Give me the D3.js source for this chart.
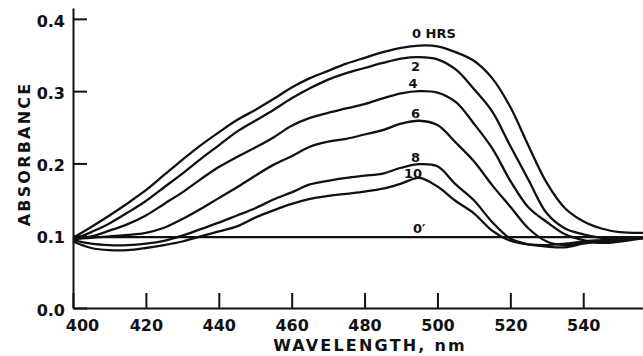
<!DOCTYPE html>
<html>
<head>
<meta charset="utf-8">
<script src="https://cdn.jsdelivr.net/npm/d3@7"></script>
<style>
  html, body { margin: 0; padding: 0; background: #fff; }
  svg { display: block; }
  .axis text { font-family: "DejaVu Sans", sans-serif; font-weight: bold; font-size: 16px; fill: #111; }
  .axis path, .axis line { stroke: #111; stroke-width: 2; }
  .title { font-family: "DejaVu Sans", sans-serif; font-weight: bold; font-size: 16px; letter-spacing: 2.2px; fill: #111; }
  .curve { fill: none; stroke: #111; stroke-width: 2.3; stroke-linejoin: round; }
  .label { font-family: "DejaVu Sans", sans-serif; font-weight: bold; font-size: 13px; fill: #111; }
</style>
</head>
<body>
<svg id="chart" width="643" height="356"></svg>
<script>
// wavelength grid (nm) shared by the time series
const wavelengths = [400, 405, 410, 415, 420, 425, 430, 435, 440, 445, 450, 455, 460, 465, 470, 475,
                     480, 485, 490, 495, 500, 505, 510, 515, 520, 525, 530, 535, 540, 545, 550, 557];

// absorbance, one array per sampling time
const hrs0 = [0.097, 0.112, 0.128, 0.145, 0.163, 0.184, 0.205, 0.225, 0.243, 0.260, 0.274, 0.289, 0.305, 0.318, 0.328, 0.338,
              0.346, 0.354, 0.360, 0.363, 0.362, 0.354, 0.342, 0.318, 0.278, 0.224, 0.173, 0.138, 0.120, 0.110, 0.105, 0.104];
const hrs2 = [0.094, 0.105, 0.117, 0.132, 0.148, 0.167, 0.186, 0.206, 0.225, 0.244, 0.259, 0.274, 0.290, 0.304, 0.316, 0.325,
              0.332, 0.339, 0.345, 0.347, 0.344, 0.330, 0.303, 0.272, 0.224, 0.177, 0.131, 0.110, 0.102, 0.097, 0.095, 0.097];
const hrs4 = [0.095, 0.099, 0.107, 0.116, 0.128, 0.144, 0.160, 0.178, 0.195, 0.209, 0.222, 0.236, 0.252, 0.263, 0.270, 0.276,
              0.282, 0.290, 0.297, 0.300, 0.298, 0.285, 0.255, 0.221, 0.176, 0.139, 0.119, 0.102, 0.094, 0.090, 0.092, 0.097];
const hrs6 = [0.096, 0.097, 0.099, 0.101, 0.104, 0.111, 0.123, 0.137, 0.152, 0.167, 0.183, 0.198, 0.210, 0.223, 0.230, 0.234,
              0.240, 0.246, 0.255, 0.259, 0.253, 0.229, 0.203, 0.170, 0.140, 0.110, 0.092, 0.087, 0.090, 0.092, 0.095, 0.098];
const hrs8 = [0.094, 0.089, 0.087, 0.087, 0.089, 0.093, 0.100, 0.109, 0.118, 0.128, 0.138, 0.150, 0.160, 0.171, 0.176, 0.180,
              0.183, 0.186, 0.194, 0.199, 0.196, 0.171, 0.149, 0.119, 0.096, 0.088, 0.085, 0.084, 0.089, 0.092, 0.095, 0.098];
const hrs10 = [0.092, 0.083, 0.080, 0.080, 0.083, 0.087, 0.092, 0.099, 0.106, 0.113, 0.125, 0.135, 0.144, 0.151, 0.155, 0.158,
               0.161, 0.165, 0.172, 0.180, 0.168, 0.148, 0.131, 0.107, 0.093, 0.088, 0.087, 0.089, 0.092, 0.094, 0.096, 0.098];

// the flat 0' reference trace
const primeWavelengths = [400, 557];
const primeValues = [0.098, 0.098];

const seriesNames = ['0 HRS', '2', '4', '6', '8', '10'];
const seriesValues = [hrs0, hrs2, hrs4, hrs6, hrs8, hrs10];

const xTicks = [400, 420, 440, 460, 480, 500, 520, 540];
const yTicks = [0, 0.1, 0.2, 0.3, 0.4];

const svg = d3.select('#chart');

const x = d3.scaleLinear().domain([400, 556.4]).range([73, 643]);
const y = d3.scaleLinear().domain([0, 0.415]).range([308, 8]);

const line = d3.line()
  .x(d => x(d[0]))
  .y(d => y(d[1]))
  .curve(d3.curveCatmullRom.alpha(0.5));

// curves
const traces = seriesValues.map(vals => wavelengths.map((w, i) => [w, vals[i]]));
traces.push(primeWavelengths.map((w, i) => [w, primeValues[i]]));

svg.append('g')
  .selectAll('path')
  .data(traces)
  .join('path')
  .attr('class', 'curve')
  .attr('d', line);

// x axis, ticks point up into the plot
const gx = svg.append('g')
  .attr('class', 'axis')
  .attr('transform', `translate(0,${y(0)})`)
  .call(d3.axisBottom(x)
    .tickValues(xTicks)
    .tickSizeInner(-15)
    .tickSizeOuter(0)
    .tickPadding(12)
    .tickFormat(d3.format('d')));
gx.selectAll('.tick text').filter(d => d === 400).attr('x', 9);

// y axis, ticks point right
svg.append('g')
  .attr('class', 'axis')
  .attr('transform', `translate(${x(400)},0)`)
  .call(d3.axisLeft(y)
    .tickValues(yTicks)
    .tickSizeInner(-14)
    .tickSizeOuter(0)
    .tickPadding(8)
    .tickFormat(d3.format('.1f')))
  .selectAll('.tick text').attr('dy', '0.45em');

// axis titles
svg.append('text')
  .attr('class', 'title')
  .attr('x', 370)
  .attr('y', 351)
  .attr('text-anchor', 'middle')
  .text('WAVELENGTH, nm');

svg.append('text')
  .attr('class', 'title')
  .attr('transform', 'translate(30,154) rotate(-90)')
  .attr('text-anchor', 'middle')
  .text('ABSORBANCE');

// curve labels, placed near each peak relative to the curve itself
const valueAt = vals => d3.scaleLinear().domain(wavelengths).range(vals);
const labelSpecs = [
  { text: seriesNames[0], vals: hrs0, wl: 493, dy: -8.5, anchor: 'start' },
  { text: seriesNames[1], vals: hrs2, wl: 494, dy: 14, anchor: 'middle' },
  { text: seriesNames[2], vals: hrs4, wl: 493.3, dy: -4, anchor: 'middle' },
  { text: seriesNames[3], vals: hrs6, wl: 494, dy: -3.5, anchor: 'middle' },
  { text: seriesNames[4], vals: hrs8, wl: 494, dy: -3, anchor: 'middle' },
  { text: seriesNames[5], vals: hrs10, wl: 493.3, dy: -1.5, anchor: 'middle' }
];

svg.append('g')
  .selectAll('text')
  .data(labelSpecs)
  .join('text')
  .attr('class', 'label')
  .attr('text-anchor', d => d.anchor)
  .attr('x', d => x(d.wl))
  .attr('y', d => y(valueAt(d.vals)(d.wl)) + d.dy)
  .text(d => d.text);

svg.append('text')
  .attr('class', 'label')
  .attr('text-anchor', 'middle')
  .attr('x', x(495))
  .attr('y', y(primeValues[0]) - 4)
  .text("0\u2032");
</script>
</body>
</html>
